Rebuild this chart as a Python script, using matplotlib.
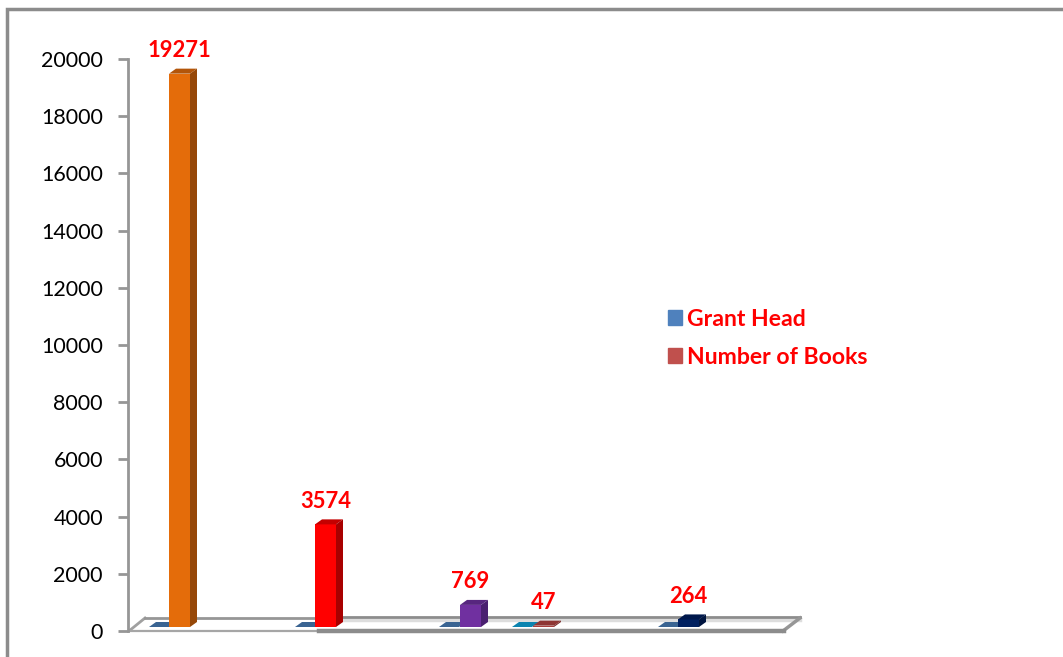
"""Grant head / number of books chart, faux 3D bars."""

import matplotlib

matplotlib.use("Agg")
import matplotlib.pyplot as plt
from matplotlib.lines import Line2D
from matplotlib.patches import Patch, Polygon, Rectangle

W, H = 1063, 657
plt.rcParams.update({"font.family": ["Lato", "DejaVu Sans"], "figure.dpi": 100})

# values
books = [19271, 3574, 769, 47, 264]
grant_head = [0, 0, 0, 0, 0]
y_ticks = list(range(0, 20001, 2000))

# looks
grant_x = [149, 295, 439, 512, 658]
book_x = [169, 315, 460, 533, 678]
grant_col = ["#3A6492", "#3A6492", "#3A6492", "#0B84B0", "#3A6492"]
book_col = ["#E46C0A", "#FF0000", "#7030A0", "#A8403E", "#002060"]
book_top = ["#B35509", "#C40000", "#57267F", "#8E3533", "#00184C"]
book_side = ["#964808", "#A80000", "#4A2070", "#7A2C2A", "#001540"]

GREY = "#8C8C8C"
BAR_W = 21
DEPTH_X, DEPTH_Y = 7, 5
Y0_PX, Y20K_PX = 631, 59
UNIT = 20000 / (Y0_PX - Y20K_PX)


def py(pixel_y):
    return (Y0_PX - pixel_y) * UNIT


def draw_box(ax, x, value, face, top, side, w=BAR_W, z=5):
    base = py(627)
    h = value * 1.004
    dy = DEPTH_Y * UNIT
    ax.bar(x, h, width=w, bottom=base, align="edge", color=face, zorder=z, clip_on=False)
    ax.add_patch(Polygon([(x, base + h), (x + w, base + h), (x + w + DEPTH_X, base + h + dy),
                          (x + DEPTH_X, base + h + dy)], color=top, lw=0, zorder=z, clip_on=False))
    if value > 0:
        ax.add_patch(Polygon([(x + w, base), (x + w + DEPTH_X, base + dy), (x + w + DEPTH_X, base + h + dy),
                              (x + w, base + h)], color=side, lw=0, zorder=z, clip_on=False))


fig = plt.figure(figsize=(W / 100, H / 100), dpi=100)
ax = fig.add_axes([128 / W, 1 - Y0_PX / H, (790 - 128) / W, (Y0_PX - Y20K_PX) / H])
ax.set_xlim(128, 790)
ax.set_ylim(0, 20000)
ax.patch.set_alpha(0)

# outer frame
fig.add_artist(Rectangle((7 / W, -0.1), 1.1, 1.1 - 9 / H, transform=fig.transFigure,
                         fill=False, ec=GREY, lw=2.5))

for s in ["top", "right", "bottom"]:
    ax.spines[s].set_visible(False)
ax.spines["left"].set_color("#969696")
ax.spines["left"].set_linewidth(2)
ax.set_xticks([])
ax.set_yticks(y_ticks)
ax.tick_params(axis="y", length=7, width=2, color="#969696", labelsize=15.5, pad=11, labelcolor="black")

# floor
floor = [
    ([129, 145], [631, 618], "#A0A0A0", 2),
    ([145, 340], [618, 618], "#969696", 2),
    ([340, 800], [620, 620], "#DDDDDD", 2.5),
    ([340, 800], [617, 617], "#8C8C8C", 2),
    ([783, 800], [631, 618], "#969696", 2.5),
    ([129, 320], [631, 631], "#A6A6A6", 1.6),
    ([319, 784], [631, 631], GREY, 3.2),
]
for xs, ys, c, lw in floor:
    ax.add_line(Line2D(xs, [py(v) for v in ys], color=c, lw=lw, zorder=2, clip_on=False))

for i, v in enumerate(books):
    draw_box(ax, grant_x[i], grant_head[i], grant_col[i], grant_col[i], grant_col[i], w=20, z=4)
    draw_box(ax, book_x[i], v, book_col[i], book_top[i], book_side[i])
    ax.annotate(str(v), (book_x[i] + BAR_W / 2, py(627) + v * 1.004), xytext=(0, 23),
                textcoords="offset pixels", ha="center", va="center", color="#FF0000",
                fontsize=15.8, fontweight="bold", zorder=6, annotation_clip=False)

handles = [Patch(color="#4F81BD", label="Grant Head"), Patch(color="#C0504D", label="Number of Books")]
leg = ax.legend(handles=handles, loc="upper left", bbox_to_anchor=((661 - 128) / (790 - 128), 1 - (302 - 59) / 572),
                frameon=False, fontsize=16.6, handlelength=0.6, handleheight=0.6, handletextpad=0.22,
                labelspacing=0.72, borderpad=0.3, borderaxespad=0)
for t in leg.get_texts():
    t.set_color("#FF0000")
    t.set_fontweight("bold")

fig.savefig("out.png", dpi=100)
